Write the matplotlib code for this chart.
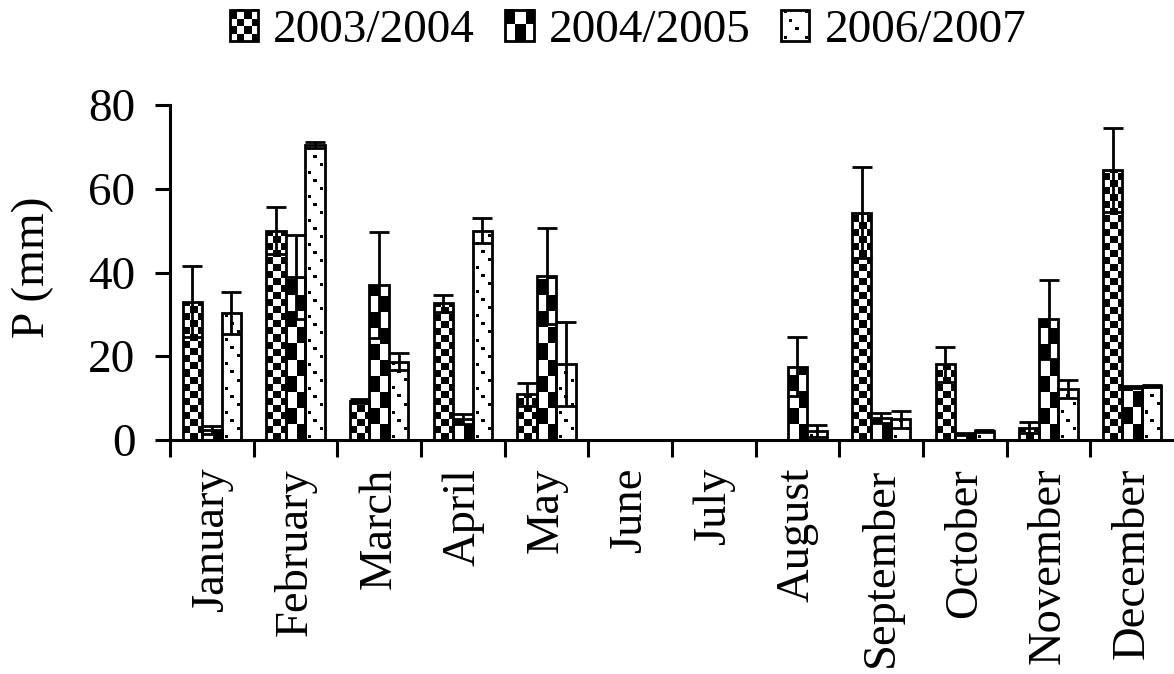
import numpy as np
import matplotlib
matplotlib.use('Agg')
import matplotlib.pyplot as plt
from matplotlib.patches import Rectangle
from matplotlib.legend_handler import HandlerBase
from matplotlib.image import BboxImage
from matplotlib.transforms import Bbox, TransformedBbox
from matplotlib.colors import Normalize

plt.rcParams['font.family'] = ['Liberation Serif', 'DejaVu Serif']

months = ['January', 'February', 'March', 'April', 'May', 'June', 'July',
          'August', 'September', 'October', 'November', 'December']
seasons = ['2003/2004', '2004/2005', '2006/2007']

p_0304 = [33, 50, 9.3, 32.6, 10.9, 0, 0, 0, 54.3, 18.1, 2.9, 64.5]
e_0304 = [8.5, 5.7, 0.5, 2, 2.7, 0, 0, 0, 10.8, 4.2, 1.3, 10]
p_0405 = [2.4, 39, 37, 5, 39.2, 0, 0, 17.5, 5.2, 1.4, 28.8, 12.7]
e_0405 = [1, 10, 12.7, 1.2, 11.5, 0, 0, 7, 1.2, 0.2, 9.4, 0.3]
p_0607 = [30.4, 70.4, 18.7, 50, 18.1, 0, 0, 2.2, 4.9, 2.1, 12.2, 12.9]
e_0607 = [5, 0.7, 2, 3, 10, 0, 0, 1.4, 2, 0.2, 2.1, 0.3]

values = [p_0304, p_0405, p_0607]
errors = [e_0304, e_0405, e_0607]


# pixel fill patterns, 1 = black
def fine_checker(h, w):
    i, j = np.mgrid[0:h, 0:w]
    return ((i // 7 + j // 7) % 2).astype(float)


def big_checker(h, w):
    i, j = np.mgrid[0:h, 0:w]
    return ((i // 16 + j // 10) % 2).astype(float)


def dots(h, w):
    tile = np.zeros((24, 20))
    for x, y in [(3, 2), (14, 10), (8, 18)]:
        tile[y:y + 3, x:x + 3] = 1
    reps = (h // 24 + 1, w // 20 + 1)
    return np.tile(tile, reps)[:h, :w]


patterns = [fine_checker, big_checker, dots]


class PatternHandle:
    def __init__(self, func):
        self.func = func


class PatternHandler(HandlerBase):
    def create_artists(self, legend, orig_handle, xdescent, ydescent,
                       width, height, fontsize, trans):
        bb = TransformedBbox(Bbox.from_bounds(-xdescent, -ydescent, width, height), trans)
        im = BboxImage(bb, cmap='gray_r', norm=Normalize(0, 1),
                       interpolation='nearest', origin='lower')
        im.set_data(orig_handle.func(30, 28))
        rect = Rectangle((-xdescent, -ydescent), width, height, facecolor='none',
                         edgecolor='black', lw=2, transform=trans)
        return [im, rect]


fig = plt.figure(figsize=(11.74, 6.74), dpi=100)
ax = fig.add_axes([170 / 1174, 1 - 440 / 674, 1004 / 1174, 335 / 674])
ax.set_xlim(0, 12)
ax.set_ylim(0, 80)

px_x = ax.transData.transform((1, 0))[0] - ax.transData.transform((0, 0))[0]
px_y = ax.transData.transform((0, 1))[1] - ax.transData.transform((0, 0))[1]

x = np.arange(len(months)) + 0.5
w = 0.233
for k in range(3):
    xs = x + (k - 1) * w
    vals = np.array(values[k])
    errs = np.array(errors[k])
    bars = ax.bar(xs, vals, width=w, facecolor='none', edgecolor='black',
                  linewidth=2, zorder=3)
    for b, v in zip(bars, vals):
        if v <= 0:
            continue
        x0 = b.get_x()
        hp = max(int(round(v * px_y)), 1)
        wp = max(int(round(w * px_x)), 1)
        im = ax.imshow(patterns[k](hp, wp), cmap='gray_r', vmin=0, vmax=1,
                       interpolation='nearest', origin='lower',
                       extent=(x0, x0 + w, 0, v), aspect='auto', zorder=2)
        im.set_clip_path(b)
    m = vals > 0
    ax.errorbar(xs[m], vals[m], yerr=errs[m], fmt='none', ecolor='black',
                elinewidth=2, capsize=7, capthick=2, zorder=4)

ax.set_xlim(0, 12)
ax.set_ylim(0, 80)
ax.set_aspect('auto')

ax.spines['top'].set_visible(False)
ax.spines['right'].set_visible(False)
ax.spines['left'].set_linewidth(2.2)
ax.spines['bottom'].set_linewidth(2.2)

ax.set_xticks(x)
ax.set_xticklabels(months, rotation=90, fontsize=33.5)
ax.tick_params(axis='x', which='major', length=0, pad=20)
ax.set_xticks(np.arange(0, 12), minor=True)
ax.tick_params(axis='x', which='minor', length=12, width=2.2, direction='out')

ax.set_yticks([0, 20, 40, 60, 80])
ax.tick_params(axis='y', length=11, width=2.2, direction='out', labelsize=34, pad=14)

ax.set_ylabel('P (mm)', fontsize=34)
ax.yaxis.set_label_coords(-0.115, 0.516)

handles = [PatternHandle(f) for f in patterns]
fig.legend(handles, seasons, handler_map={PatternHandle: PatternHandler()},
           loc='center', bbox_to_anchor=(628 / 1174, 1 - 31 / 674), ncol=3,
           frameon=False, fontsize=34, handlelength=0.6, handleheight=0.64,
           handletextpad=0.32, columnspacing=0.64, borderpad=0)

fig.savefig('out.png', dpi=100)
